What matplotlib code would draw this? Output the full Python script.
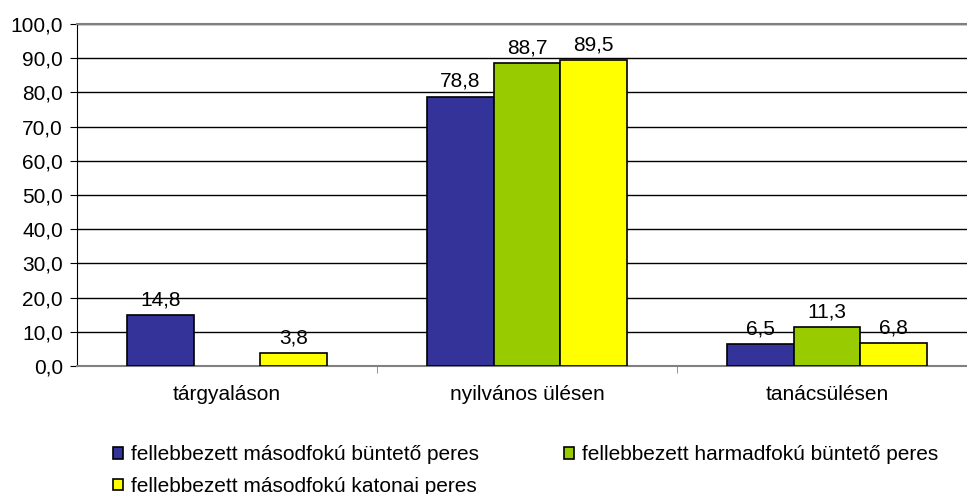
import matplotlib.pyplot as plt
import numpy as np

plt.rcParams['font.family'] = ['Liberation Sans', 'DejaVu Sans']

kategoriak = ['tárgyaláson', 'nyilvános ülésen', 'tanácsülésen']
sorozatok = ['fellebbezett másodfokú büntető peres',
             'fellebbezett harmadfokú büntető peres',
             'fellebbezett másodfokú katonai peres']
masodfoku_bunteto = [14.8, 78.8, 6.5]
harmadfoku_bunteto = [np.nan, 88.7, 11.3]
masodfoku_katonai = [3.8, 89.5, 6.8]
y_tickek = [0, 10, 20, 30, 40, 50, 60, 70, 80, 90, 100]

szinek = ['#333399', '#99CC00', '#FFFF00']
ertekek = [masodfoku_bunteto, harmadfoku_bunteto, masodfoku_katonai]
fs = 15

fig = plt.figure(figsize=(9.67, 4.94), dpi=100)
# a rajzterulet jobb szele kilog a kepbol
ax = fig.add_axes([77 / 967, 1 - 366 / 494, 900 / 967, 342 / 494])

x = np.arange(len(kategoriak))
szel = 2 / 9
rudak = []
for i, (vals, szin) in enumerate(zip(ertekek, szinek)):
    r = ax.bar(x + (i - 1) * szel, vals, szel, color=szin, edgecolor='black',
               linewidth=1.2, label=sorozatok[i], zorder=3)
    rudak.append(r)
    cimkek = ['' if np.isnan(v) else f'{v:.1f}'.replace('.', ',') for v in vals]
    ax.bar_label(r, labels=cimkek, padding=4, fontsize=fs)

ax.set_xlim(-0.5, 2.5)
ax.set_ylim(0, 100)
ax.set_yticks(y_tickek)
ax.set_yticklabels([f'{v:.1f}'.replace('.', ',') for v in y_tickek], fontsize=fs)
ax.yaxis.grid(True, color='black', linewidth=1)
ax.set_axisbelow(True)

ax.set_xticks(x)
ax.set_xticklabels(kategoriak, fontsize=fs)
ax.set_xticks([0.5, 1.5], minor=True)
ax.tick_params(axis='x', which='major', length=0, pad=14)
ax.tick_params(axis='x', which='minor', length=5, color='#808080')
ax.tick_params(axis='y', length=5, pad=5)

for s in ['top', 'right', 'bottom']:
    ax.spines[s].set_color('#808080')
    ax.spines[s].set_linewidth(1.5)
ax.spines['left'].set_color('black')

h = [rudak[0], rudak[2], rudak[1]]
l = [sorozatok[0], sorozatok[2], sorozatok[1]]
fig.legend(h, l, loc='upper left', bbox_to_anchor=(105 / 967, 1 - 437 / 494),
           ncol=2, frameon=False, fontsize=fs, handlelength=0.45, handleheight=0.45,
           handletextpad=0.4, columnspacing=4.1, labelspacing=0.6, borderaxespad=0)

plt.savefig('out.png', dpi=100)
